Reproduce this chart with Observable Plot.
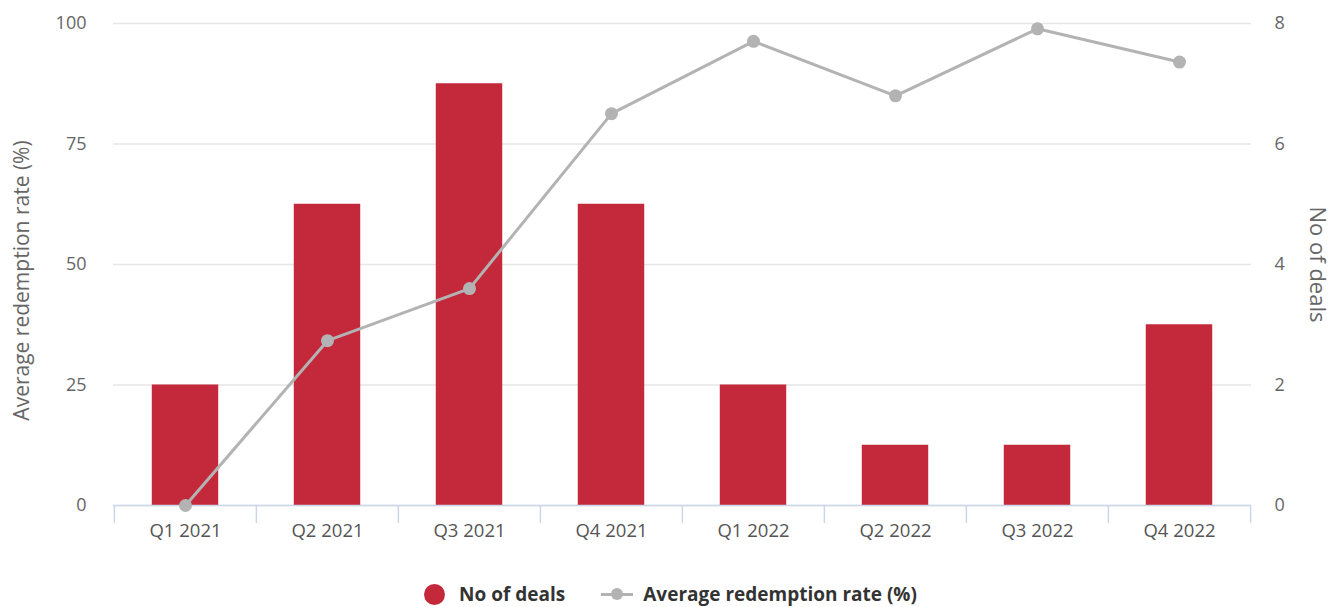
<!DOCTYPE html>
<html>
<head>
<meta charset="utf-8">
<script src="https://cdn.jsdelivr.net/npm/d3@7"></script>
<script src="https://cdn.jsdelivr.net/npm/@observablehq/plot@0.6"></script>
<style>
  body { margin: 0; background: #fff; font-family: "Open Sans", sans-serif; }
  #legend { display: flex; justify-content: center; align-items: center; height: 40px; margin-top: 14px; font-weight: bold; font-size: 19px; color: #333; padding-left: 6px; }
  .item { display: flex; align-items: center; margin: 0 18px; }
  .dot { width: 21px; height: 21px; border-radius: 50%; background: #c4283b; margin-right: 14px; }
  .lsym { position: relative; width: 32px; height: 20px; margin-right: 10px; }
  .lsym::before { content: ""; position: absolute; left: 0; right: 0; top: 8.5px; height: 3px; background: #b3b3b3; }
  .lsym::after { content: ""; position: absolute; left: 10px; top: 4px; width: 12px; height: 12px; border-radius: 50%; background: #b3b3b3; }
</style>
</head>
<body>
<div id="chart"></div>
<div id="legend">
  <div class="item"><div class="dot"></div>No of deals</div>
  <div class="item"><div class="lsym"></div>Average redemption rate (%)</div>
</div>
<script>
const quarters = ["Q1 2021","Q2 2021","Q3 2021","Q4 2021","Q1 2022","Q2 2022","Q3 2022","Q4 2022"];
const deals = [2, 5, 7, 5, 2, 1, 1, 3];
const redemptionRate = [0, 34.2, 45.0, 81.3, 96.3, 85.0, 98.9, 92.0];
const leftTicks = [0, 25, 50, 75, 100];
const rightTicks = [0, 2, 4, 6, 8];

const leftMax = 100, rightMax = 8;
const toLeft = v => v * leftMax / rightMax;

const data = quarters.map((q, i) => ({q, deals: deals[i], rate: redemptionRate[i]}));

const W = 1335, mL = 113, mR = 84;
const step = (W - mL - mR) / quarters.length;
const barW = 66.7;
const gray = "#666";

const chart = Plot.plot({
  width: W,
  height: 560,
  marginLeft: mL,
  marginRight: mR,
  marginTop: 23,
  marginBottom: 55,
  style: {fontFamily: "Open Sans, sans-serif", fontSize: "18px", color: gray, background: "#fff", overflow: "visible"},
  x: {domain: quarters, padding: 0},
  y: {domain: [0, leftMax]},
  marks: [
    Plot.gridY(leftTicks, {stroke: "#e6e6e6", strokeOpacity: 1, strokeWidth: 1.5}),
    Plot.barY(data, {x: "q", y: d => toLeft(d.deals), fill: "#c4283b", insetLeft: (step - barW) / 2, insetRight: (step - barW) / 2}),
    Plot.ruleY([0], {stroke: "#ccd6eb", strokeWidth: 1.5}),
    Plot.axisY(leftTicks, {anchor: "left", tickSize: 0, tickPadding: 27, label: null, fill: gray, fontSize: 18}),
    Plot.axisY(rightTicks.map(toLeft), {anchor: "right", tickSize: 0, tickPadding: 23, label: null, tickFormat: v => v * rightMax / leftMax, fill: gray, fontSize: 18}),
    Plot.axisX({tickSize: 0, tickPadding: 18, label: null, fill: "#555", fontSize: 18.5}),
    Plot.axisX(quarters, {tickSize: 18, dx: -step / 2, tickFormat: () => "", label: null, stroke: "#ccd6eb", strokeWidth: 1.5}),
    Plot.axisX(quarters.slice(-1), {tickSize: 18, dx: step / 2, tickFormat: () => "", label: null, stroke: "#ccd6eb", strokeWidth: 1.5}),
    Plot.line(data, {x: "q", y: "rate", stroke: "#b3b3b3", strokeWidth: 3}),
    Plot.dot(data, {x: "q", y: "rate", fill: "#b3b3b3", r: 6.5}),
    Plot.text(["Average redemption rate (%)"], {frameAnchor: "left", textAnchor: "middle", rotate: -90, dx: -91, dy: 16, fill: gray, fontSize: 21}),
    Plot.text(["No of deals"], {frameAnchor: "right", textAnchor: "middle", rotate: 90, dx: 66, fill: gray, fontSize: 22})
  ]
});
document.getElementById("chart").appendChild(chart);
</script>
</body>
</html>
